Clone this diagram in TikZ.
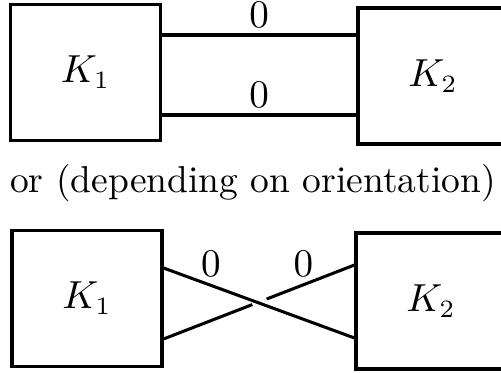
\documentclass[tikz,border=0pt]{standalone}
\usepackage{amsmath}
\usepackage{xcolor}
\usetikzlibrary{calc}

\begin{document}
\begin{tikzpicture}[x=0.28pt,y=-0.28pt,font=\fontsize{10.5}{12.6}\selectfont,
    knot/.style={draw,line width=0.85pt,minimum width=150*0.28pt,minimum height=136*0.28pt,inner sep=0pt},
    band/.style={line width=0.85pt},
    lbl/.style={above=1.8pt,inner sep=0pt}]
    \clip (0,0) rectangle (501,373);
    % parallel bands
    \node[knot] (ka) at (85.5,72.5) {$K_1$};
    \node[knot] (kb) at (433,76) {$K_2$};
    \draw[band] (ka.east |- 0,35) -- node[lbl]{$0$} (kb.west |- 0,35);
    \draw[band] (ka.east |- 0,115) -- node[lbl]{$0$} (kb.west |- 0,115);
    \node (or) at (253,183) {or (depending on orientation)};
    % crossed bands
    \node[knot] (kc) at (87,298.5) {$K_1$};
    \node[knot] (kd) at (431,301) {$K_2$};
    \coordinate (c1) at (kc.east |- 0,268);
    \coordinate (c2) at (kc.east |- 0,339);
    \coordinate (d1) at (kd.west |- 0,265);
    \coordinate (d2) at (kd.west |- 0,338);
    \draw[band] (c1) -- (d2);
    \draw[band] (c2) -- ($(c2)!0.465!(d1)$);
    \draw[band] ($(c2)!0.54!(d1)$) -- (d1);
    \node[anchor=south,inner sep=0pt] (la) at (211,277) {$0$};
    \node[anchor=south,inner sep=0pt] (lb) at (303.5,277) {$0$};
\end{tikzpicture}
\end{document}
